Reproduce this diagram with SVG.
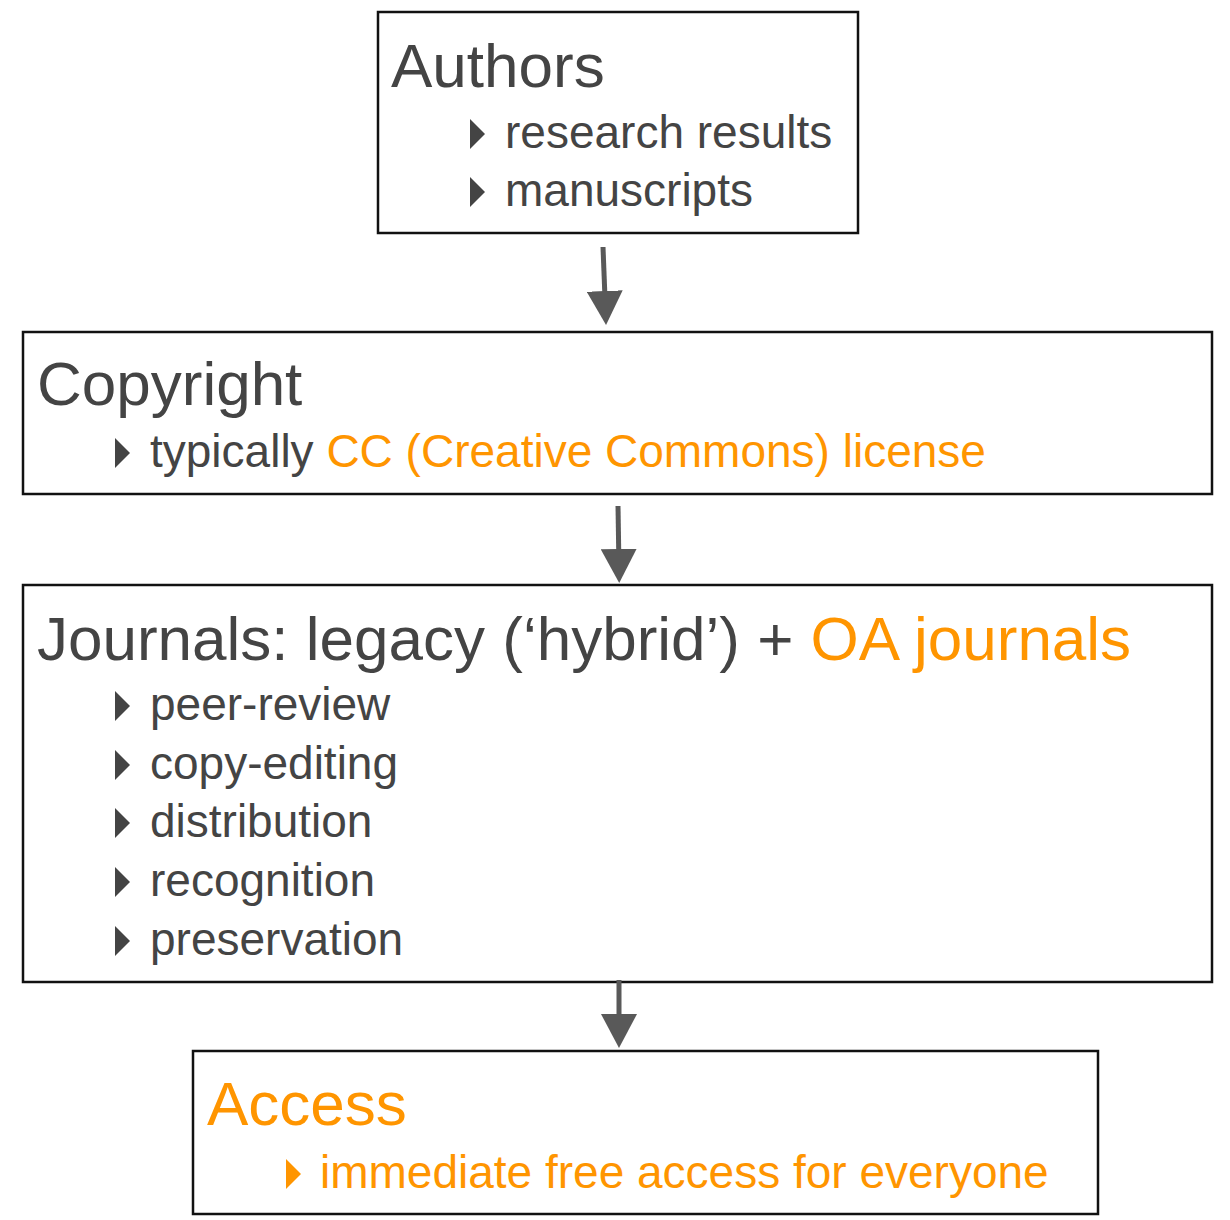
<svg xmlns="http://www.w3.org/2000/svg" width="1230" height="1220" viewBox="0 0 1230 1220">
<defs>
<style>
.box{fill:#fff;stroke:#111;stroke-width:2.5}
.h{font-family:"Liberation Sans",Arial,sans-serif;font-size:62px;fill:#444}
.t{font-family:"Liberation Sans",Arial,sans-serif;font-size:46px;fill:#444}
.o{fill:#FF9500}
.bul{fill:#444}
.bulo{fill:#FF9500}
.conn{stroke:#595959;stroke-width:5;fill:none}
</style>
<marker id="ah" viewBox="0 0 34 36" refX="20" refY="18" markerWidth="34" markerHeight="36" markerUnits="userSpaceOnUse" orient="auto">
<path d="M0,0 L34,18 L0,36 z" fill="#595959"/>
</marker>
<path id="tri" d="M0,-29 L15,-14 L0,1 z"/>
</defs>
<rect width="1230" height="1220" fill="#fff"/>
<g id="authors">
<rect class="box" x="378" y="12" width="480" height="221"/>
<text class="h" x="391" y="87">Authors</text>
<use href="#tri" class="bul" x="470" y="148"/>
<text class="t" x="505" y="148">research results</text>
<use href="#tri" class="bul" x="470" y="206"/>
<text class="t" x="505" y="206">manuscripts</text>
</g>
<g id="copyright">
<rect class="box" x="23" y="332" width="1189" height="162"/>
<text class="h" x="37" y="405">Copyright</text>
<use href="#tri" class="bul" x="115" y="467"/>
<text class="t" x="150" y="467">typically <tspan class="o">CC (Creative Commons) license</tspan></text>
</g>
<g id="journals">
<rect class="box" x="23" y="585" width="1189" height="397"/>
<text class="h" x="37" y="660">Journals: legacy (‘hybrid’) + <tspan class="o">OA journals</tspan></text>
<use href="#tri" class="bul" x="115" y="720"/>
<text class="t" x="150" y="720">peer-review</text>
<use href="#tri" class="bul" x="115" y="779"/>
<text class="t" x="150" y="779">copy-editing</text>
<use href="#tri" class="bul" x="115" y="837"/>
<text class="t" x="150" y="837">distribution</text>
<use href="#tri" class="bul" x="115" y="896"/>
<text class="t" x="150" y="896">recognition</text>
<use href="#tri" class="bul" x="115" y="955"/>
<text class="t" x="150" y="955">preservation</text>
</g>
<g id="access">
<rect class="box" x="193" y="1051" width="905" height="163"/>
<text class="h o" x="207" y="1125">Access</text>
<use href="#tri" class="bulo" x="286" y="1188"/>
<text class="t o" x="320" y="1188">immediate free access for everyone</text>
</g>
<g id="connectors">
<path class="conn" d="M603,247 L605.5,311" marker-end="url(#ah)"/>
<path class="conn" d="M618,506 L619,569" marker-end="url(#ah)"/>
<path class="conn" d="M619,980 L619,1034" marker-end="url(#ah)"/>
</g>
</svg>
